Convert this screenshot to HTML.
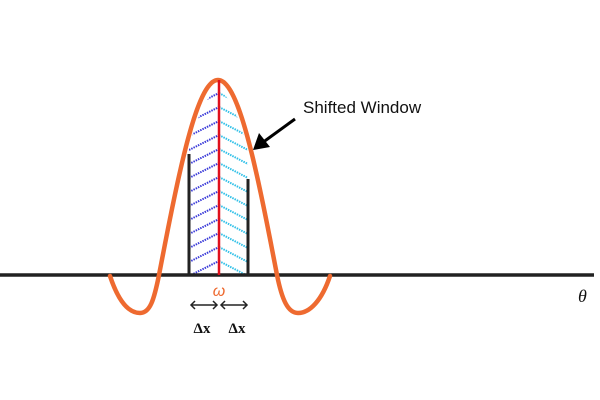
<!DOCTYPE html>
<html><head><meta charset="utf-8"><style>body{margin:0;background:#fff}svg{display:block}</style></head>
<body>
<svg id="s" width="600" height="400" viewBox="0 0 600 400" xmlns="http://www.w3.org/2000/svg">
<defs>
<clipPath id="cl"><path id="clp" d=""/></clipPath>
</defs>
<g clip-path="url(#cl)" id="hatch"></g>
<line x1="0" y1="275" x2="594" y2="275" stroke="#222" stroke-width="3.5"/>
<line x1="189" y1="154" x2="189" y2="275" stroke="#222" stroke-width="3"/>
<line x1="248" y1="179" x2="248" y2="275" stroke="#222" stroke-width="3"/>
<path id="curve" d="" fill="none" stroke="#ee6a30" stroke-width="4.5" stroke-linecap="round" stroke-linejoin="round"/>
<line x1="219" y1="80" x2="219" y2="275" stroke="#e0101c" stroke-width="2.5"/>
<line x1="295" y1="119" x2="262" y2="143" stroke="#000" stroke-width="3"/>
<polygon points="253,150 259,133 270,147" fill="#000"/>
<text x="303" y="113" font-family="Liberation Sans, sans-serif" font-size="17" fill="#111">Shifted Window</text>
<text x="578" y="302" font-family="Liberation Serif, serif" font-style="italic" font-size="18" fill="#111">θ</text>
<text x="219" y="296" text-anchor="middle" font-family="Liberation Sans, sans-serif" font-style="italic" font-size="16" fill="#ee6a30">ω</text>
<g stroke="#222" stroke-width="1.5" fill="none">
<line x1="191" y1="305" x2="217" y2="305"/><polyline points="195,301 191,305 195,309"/><polyline points="213,301 217,305 213,309"/>
<line x1="221" y1="305" x2="247" y2="305"/><polyline points="225,301 221,305 225,309"/><polyline points="243,301 247,305 243,309"/>
</g>
<text x="202" y="333" text-anchor="middle" font-family="Liberation Serif, serif" font-weight="bold" font-size="15" fill="#111">Δx</text>
<text x="237" y="333" text-anchor="middle" font-family="Liberation Serif, serif" font-weight="bold" font-size="15" fill="#111">Δx</text>
</svg>
<script>
var X0=218, A=195, HW=59;
function ym(x){return 275-A*Math.cos(Math.PI/2*(x-X0)/HW);}
var ZL=X0-HW, ZR=X0+HW;
var d="M110,276 C118,300 128,313 140,313 C150,313 154,300 "+ZL+",275 ";
for(var x=ZL+1;x<=ZR;x++){d+="L"+x+","+ym(x).toFixed(2)+" ";}
d+="C282,300 288,313 298,313 C310,313 322,300 330,276";
document.getElementById("curve").setAttribute("d",d);
var c="M189,275 ";for(x=189;x<=248;x++){c+="L"+x+","+(ym(x)+12).toFixed(2)+" ";}c+="L248,275 Z";
document.getElementById("clp").setAttribute("d",c);
var h="";
for(var j=-2;j<16;j++){var yy=275-j*14;h+='<line x1="189" y1="'+(yy+15)+'" x2="219" y2="'+yy+'" stroke="#3a3ad8" stroke-width="2" stroke-dasharray="1.5,1"/>';
h+='<line x1="219" y1="'+yy+'" x2="248" y2="'+(yy+15)+'" stroke="#30c0e8" stroke-width="2" stroke-dasharray="1.5,1"/>';}
document.getElementById("hatch").innerHTML=h;
</script>
</body></html>
